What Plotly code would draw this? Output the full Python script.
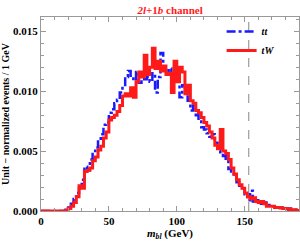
import plotly.graph_objects as go

bin_width = 2
bin_starts = list(range(0, 190, bin_width))

tt_values = [0, 0, 0, 0, 0, 0, 0, 0, 0, 0.0001,
             0.0003, 0.0006, 0.0010, 0.0015, 0.0019, 0.0026, 0.0037, 0.0034, 0.0043, 0.0050,
             0.0053, 0.0058, 0.0064, 0.0072, 0.0074, 0.0082, 0.0085, 0.0090, 0.0093, 0.0099,
             0.0104, 0.0112, 0.0117, 0.0113, 0.0109, 0.0116, 0.0107, 0.0113, 0.0110, 0.0112,
             0.0108, 0.0115, 0.0099, 0.0112, 0.0132, 0.0118, 0.0116, 0.0119, 0.0113, 0.0110,
             0.0112, 0.0095, 0.0105, 0.0100, 0.0092, 0.0084, 0.0088, 0.0080, 0.0076, 0.0070,
             0.0068, 0.0065, 0.0062, 0.0064, 0.0057, 0.0050, 0.0048, 0.0046, 0.0042, 0.0035,
             0.0033, 0.0029, 0.0024, 0.0021, 0.0019, 0.0014, 0.0009, 0.0017, 0.0008, 0.0009,
             0.0007, 0.0006, 0.0007, 0.0005, 0.0005, 0.0004, 0.0003, 0.0003, 0.0002, 0.0003,
             0.0002, 0.0001, 0.0002, 0.0001, 0.0001]

tw_values = [0, 0, 0, 0, 0, 0, 0, 0, 0, 0.00005,
             0.0002, 0.0004, 0.0007, 0.0012, 0.0021, 0.0019, 0.0033, 0.0034, 0.0036, 0.0042,
             0.0045, 0.0051, 0.0054, 0.0061, 0.0066, 0.0076, 0.0078, 0.0080, 0.0083, 0.0088,
             0.0096, 0.0098, 0.0096, 0.0103, 0.0095, 0.0108, 0.0116, 0.0112, 0.0130, 0.0114,
             0.0120, 0.0136, 0.0119, 0.0125, 0.0117, 0.0121, 0.0114, 0.0115, 0.0099, 0.0125,
             0.0108, 0.0120, 0.0116, 0.0098, 0.0105, 0.0092, 0.0090, 0.0084, 0.0082, 0.0078,
             0.0074, 0.0071, 0.0066, 0.0061, 0.0055, 0.0052, 0.0068, 0.0050, 0.0048, 0.0043,
             0.0036, 0.0031, 0.0026, 0.0022, 0.0019, 0.0015, 0.0012, 0.0010, 0.0011, 0.0008,
             0.0007, 0.0008, 0.0006, 0.0004, 0.0004, 0.0004, 0.0003, 0.0003, 0.00025, 0.0002,
             0.0002, 0.00015, 0.0001, 0.0001, 0.00005]

series_names = ["<i>tt</i>", "<i>tW</i>"]
cut_value = 153
x_tick_vals = [0, 50, 100, 150]
y_tick_vals = [0.0, 0.005, 0.010, 0.015]

# step edges: repeat last value at the right edge
x_edges = bin_starts + [bin_starts[-1] + bin_width]
tt_y = tt_values + [tt_values[-1]]
tw_y = tw_values + [tw_values[-1]]

font_family = "Liberation Serif"

fig = go.Figure()
fig.add_trace(go.Scatter(x=x_edges, y=tt_y, mode="lines", name=series_names[0],
                         line=dict(color="#1a1aff", width=2.5, dash="dashdot", shape="hv")))
fig.add_trace(go.Scatter(x=x_edges, y=tw_y, mode="lines", name=series_names[1],
                         line=dict(color="#ff1a1a", width=3, shape="hv")))

fig.add_shape(type="line", xref="x", yref="paper", x0=cut_value, x1=cut_value, y0=0, y1=1,
              line=dict(color="#888888", width=1, dash="dash"))

axis_common = dict(
    showgrid=False, zeroline=False, showline=True, linecolor="#999999", linewidth=1,
    mirror="allticks", ticks="inside", ticklen=5, tickcolor="#999999",
    tickfont=dict(family=font_family, size=11, color="black", weight="bold"),
)

fig.update_xaxes(range=[0, 190], tickvals=x_tick_vals,
                 minor=dict(ticks="inside", ticklen=3, tickcolor="#999999", dtick=10, tick0=0),
                 title=dict(text="<i>m<sub>bl</sub></i> (GeV)", standoff=4,
                            font=dict(family=font_family, size=11, color="black", weight="bold")),
                 **axis_common)
fig.update_yaxes(range=[0, 0.0162], tickvals=y_tick_vals, tickformat=".3f",
                 minor=dict(ticks="inside", ticklen=3, tickcolor="#999999", dtick=0.001, tick0=0),
                 title=dict(text="Unit \u2212 normalized events / 1 GeV", standoff=2,
                            font=dict(family=font_family, size=10, color="black", weight="bold")),
                 **axis_common)

fig.update_layout(
    width=300, height=241,
    margin=dict(l=41, r=1, t=17, b=30),
    paper_bgcolor="white", plot_bgcolor="white",
    title=dict(text="<i>2l</i>+1<i>b</i> channel", x=0.567, xanchor="center", y=0.975, yanchor="top",
               font=dict(family=font_family, size=11, color="#ff1a1a", weight="bold")),
    legend=dict(x=0.7, y=1.0, xanchor="left", yanchor="top", bgcolor="rgba(0,0,0,0)",
                font=dict(family=font_family, size=10, color="black", weight="bold"),
                itemwidth=30, tracegroupgap=0),
    showlegend=True,
)

fig.write_html("out.html", config={"displayModeBar": False},
               post_script="document.body.style.margin='0';")
